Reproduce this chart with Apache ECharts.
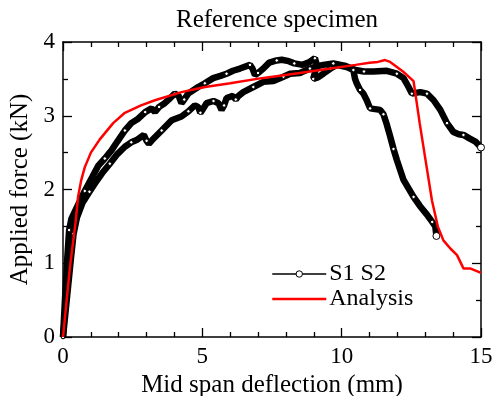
<!DOCTYPE html>
<html><head><meta charset="utf-8">
<script src="https://cdn.jsdelivr.net/npm/echarts@6/dist/echarts.min.js"></script>
<style>html,body{margin:0;padding:0;background:#fff}#c{width:497px;height:396px}</style>
</head><body><div id="c"></div>
<script>
const titleText = 'Reference specimen';
const xName = 'Mid span deflection (mm)';
const yName = 'Applied force (kN)';
const xTicks = [0, 5, 10, 15];
const yTicks = [0, 1, 2, 3, 4];

// Experimental curve 1 (upper in pre-peak, drops early)
const s1 = [[0,0],[0.07,0.5],[0.15,1.05],[0.22,1.45],[0.3,1.6],[0.5,1.76],[0.78,1.98],[1.05,2.17],[1.26,2.32],[1.5,2.42],[1.74,2.53],[1.95,2.65],[2.22,2.80],[2.45,2.9],[2.7,2.96],[2.95,3.05],[3.18,3.10],[3.3,3.05],[3.45,3.12],[3.65,3.17],[3.85,3.24],[4.01,3.30],[4.15,3.27],[4.25,3.17],[4.35,3.22],[4.49,3.30],[4.85,3.39],[5.09,3.44],[5.39,3.51],[5.65,3.54],[5.87,3.57],[6.1,3.61],[6.35,3.64],[6.71,3.69],[6.8,3.64],[6.89,3.55],[7.0,3.58],[7.19,3.64],[7.4,3.72],[7.67,3.75],[7.85,3.76],[8.1,3.74],[8.3,3.71],[8.6,3.69],[8.85,3.73],[9.04,3.78],[9.1,3.7],[9.05,3.6],[8.98,3.5],[9.15,3.52],[9.34,3.57],[9.6,3.64],[9.82,3.69],[10.18,3.66],[10.42,3.62],[10.48,3.5],[10.54,3.44],[10.66,3.35],[10.78,3.3],[10.9,3.21],[11.02,3.1],[11.2,3.09],[11.38,3.08],[11.5,3.02],[11.62,2.88],[11.74,2.72],[11.86,2.55],[11.98,2.40],[12.22,2.13],[12.58,1.9],[12.8,1.78],[13.06,1.66],[13.25,1.56],[13.36,1.5],[13.4,1.37]];

// Experimental curve 2 (lower in pre-peak, drops late)
const s2 = [[0,0],[0.12,0.45],[0.28,1.05],[0.38,1.4],[0.5,1.62],[0.7,1.82],[0.95,1.97],[1.14,2.08],[1.4,2.22],[1.68,2.35],[1.95,2.48],[2.22,2.58],[2.45,2.64],[2.64,2.67],[2.9,2.74],[3.0,2.66],[3.08,2.62],[3.2,2.67],[3.54,2.80],[3.9,2.94],[4.25,2.99],[4.5,3.06],[4.73,3.14],[4.85,3.12],[4.93,3.04],[5.02,3.09],[5.15,3.17],[5.4,3.2],[5.58,3.17],[5.69,3.08],[5.78,3.14],[5.87,3.24],[6.1,3.27],[6.2,3.22],[6.3,3.27],[6.47,3.32],[6.83,3.39],[7.19,3.46],[7.55,3.47],[7.91,3.53],[8.15,3.57],[8.5,3.58],[8.86,3.64],[9.1,3.67],[9.34,3.69],[9.7,3.71],[10.1,3.68],[10.5,3.62],[10.8,3.6],[11.14,3.6],[11.62,3.61],[11.98,3.57],[12.22,3.51],[12.4,3.39],[12.52,3.30],[12.65,3.31],[12.82,3.32],[13.06,3.30],[13.3,3.21],[13.54,3.08],[13.78,2.90],[14.01,2.78],[14.2,2.75],[14.37,2.74],[14.6,2.69],[14.8,2.65],[15.0,2.57]];

// Analysis curve
const analysis = [[0,0],[0.25,0.95],[0.45,1.55],[0.54,1.9],[0.65,2.12],[0.78,2.3],[1.0,2.5],[1.32,2.68],[1.8,2.9],[2.22,3.04],[2.8,3.14],[3.3,3.21],[4.25,3.32],[5.1,3.39],[6.0,3.44],[7.13,3.51],[8.5,3.58],[9.6,3.64],[10.5,3.69],[11.0,3.72],[11.3,3.73],[11.56,3.755],[11.74,3.73],[12.2,3.6],[12.58,3.47],[12.8,2.9],[13.06,2.28],[13.24,1.85],[13.45,1.5],[13.65,1.31],[13.9,1.2],[14.14,1.11],[14.37,0.93],[14.61,0.93],[15.0,0.87]];

const FONT = 'Liberation Serif';

// Tick-label styling through a theme (value axes)
echarts.registerTheme('serifAxes', {
  valueAxis: {
    axisLabel: { show: true, fontFamily: FONT, fontSize: 23, color: '#000' }
  }
});
const chart = echarts.init(document.getElementById('c'), 'serifAxes');

function expSeries(name, data) {
  const last = data.length - 1;
  return {
    name: name, type: 'line', data: data,
    symbol: 'circle', showAllSymbol: true,
    symbolSize: (v, p) => (p.dataIndex === last ? 7 : (p.dataIndex % 3 === 0 ? 3.5 : 0)),
    itemStyle: { color: '#fff', borderColor: '#000', borderWidth: 1 },
    lineStyle: { color: '#000', width: 6.5 },
    animation: false, z: 2
  };
}

function makeAxis(ticks, pos, mirror, split, extra) {
  const ax = {
    type: 'value', position: pos,
    min: ticks[0], max: ticks[ticks.length - 1], interval: ticks[1] - ticks[0],
    axisLine: { show: true, onZero: false, lineStyle: { color: '#000', width: 1.5 } },
    axisTick: { show: true, inside: true, length: 9, lineStyle: { color: '#000', width: 1.3 } },
    minorTick: { show: true, splitNumber: split, length: 5, lineStyle: { color: '#000', width: 1.3 } },
    splitLine: { show: false }
  };
  if (mirror) ax.axisLabel = { show: false };
  return Object.assign(ax, extra || {});
}

chart.setOption({
  animation: false,
  backgroundColor: '#fff',
  textStyle: { fontFamily: FONT, fontSize: 23, color: '#000' },
  title: { text: titleText, left: 272, textAlign: 'center', top: 3,
    textStyle: { fontFamily: FONT, fontSize: 25, fontWeight: 'normal', color: '#000' } },
  grid: { left: 63, right: 16, top: 42, bottom: 59, outerBoundsMode: 'none', containLabel: false },
  legend: {
    left: 266, top: 257, orient: 'vertical', itemWidth: 54, itemHeight: 8, itemGap: 1,
    textStyle: { fontFamily: FONT, fontSize: 24, color: '#000', padding: [0,0,0,-2] },
    data: [
      { name: 'S1 S2', lineStyle: { width: 1.5, color: '#000' }, itemStyle: { color: '#fff', borderColor: '#000', borderWidth: 1 } },
      { name: 'Analysis', lineStyle: { width: 2.5, color: '#ff0000' }, itemStyle: { color: 'rgba(0,0,0,0)', borderWidth: 0 } }
    ]
  },
  xAxis: [
    makeAxis(xTicks, 'bottom', false, 5, { name: xName, nameLocation: 'middle', nameGap: 36,
      nameTextStyle: { fontFamily: FONT, fontSize: 25, color: '#000' } }),
    makeAxis(xTicks, 'top', true, 5)
  ],
  yAxis: [
    makeAxis(yTicks, 'left', false, 2, { name: yName, nameLocation: 'middle', nameGap: 27,
      nameTextStyle: { fontFamily: FONT, fontSize: 25, color: '#000' } }),
    makeAxis(yTicks, 'right', true, 2)
  ],
  series: [
    expSeries('S1 S2', s1),
    expSeries('S2', s2),
    { name: 'Analysis', type: 'line', data: analysis, symbol: 'none',
      lineStyle: { color: '#ff0000', width: 2.5 }, itemStyle: { color: '#ff0000' }, z: 3, animation: false }
  ]
});
</script></body></html>
